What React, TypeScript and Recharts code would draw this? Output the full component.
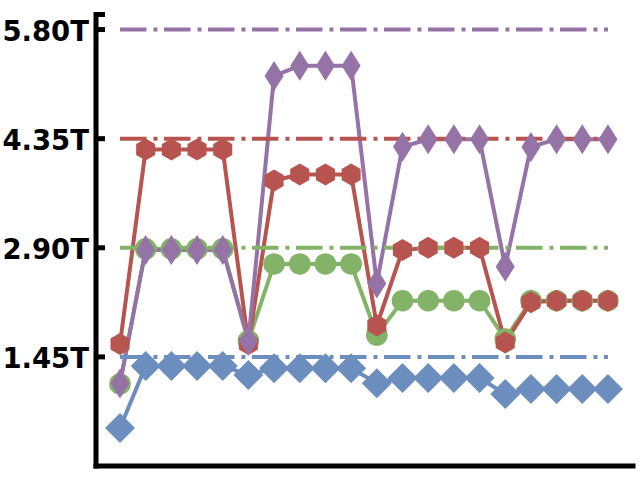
import { LineChart, Line, XAxis, YAxis } from "recharts";

const steps = [0, 1, 2, 3, 4, 5, 6, 7, 8, 9, 10, 11, 12, 13, 14, 15, 16, 17, 18, 19];

const blueVals = [0.505, 1.33, 1.33, 1.33, 1.33, 1.21, 1.3, 1.3, 1.3, 1.3, 1.1, 1.17, 1.17, 1.17, 1.17, 0.957, 1.023, 1.023, 1.023, 1.023];
const greenVals = [1.09, 2.885, 2.885, 2.885, 2.885, 1.665, 2.685, 2.685, 2.685, 2.685, 1.74, 2.197, 2.197, 2.197, 2.197, 1.688, 2.197, 2.197, 2.197, 2.197];
const redVals = [1.621, 4.205, 4.205, 4.205, 4.205, 1.62, 3.794, 3.874, 3.874, 3.874, 1.867, 2.87, 2.9, 2.9, 2.9, 1.641, 2.175, 2.197, 2.197, 2.197];
const purpleVals = [1.096, 2.87, 2.87, 2.87, 2.87, 1.661, 5.183, 5.32, 5.32, 5.32, 2.425, 4.243, 4.342, 4.342, 4.342, 2.649, 4.24, 4.342, 4.342, 4.342];

// horizontal targets, one per series
const targets = [1.45, 2.9, 4.35, 5.8];
const yTicks = [1.45, 2.9, 4.35, 5.8, 6];

const BLUE = "#6C8EBF";
const GREEN = "#82B366";
const RED = "#B85450";
const PURPLE = "#9673A6";

const data = steps.map((s, i) => ({
  x: s,
  blue: blueVals[i],
  green: greenVals[i],
  red: redVals[i],
  purple: purpleVals[i],
  tBlue: targets[0],
  tGreen: targets[1],
  tRed: targets[2],
  tPurple: targets[3],
}));

const diamond = (p: any) => {
  const { cx, cy, index } = p;
  const r = 15;
  return (
    <path
      key={`b-${index}`}
      d={`M${cx},${cy - r}L${cx + r},${cy}L${cx},${cy + r}L${cx - r},${cy}Z`}
      fill={BLUE}
    />
  );
};

const circle = (p: any) => (
  <circle key={`g-${p.index}`} cx={p.cx} cy={p.cy} r={10.8} fill={GREEN} />
);

const hexagon = (p: any) => {
  const { cx, cy, index } = p;
  const r = 11;
  const pts = [-90, -30, 30, 90, 150, 210]
    .map((a) => {
      const t = (a * Math.PI) / 180;
      return `${cx + r * Math.cos(t)},${cy + r * Math.sin(t)}`;
    })
    .join(" ");
  return <polygon key={`r-${index}`} points={pts} fill={RED} />;
};

const thinDiamond = (p: any) => {
  const { cx, cy, index } = p;
  const w = 9.5;
  const h = 15;
  return (
    <path
      key={`p-${index}`}
      d={`M${cx},${cy - h}L${cx + w},${cy}L${cx},${cy + h}L${cx - w},${cy}Z`}
      fill={PURPLE}
    />
  );
};

const YTick = (p: any) => {
  const v = p.payload.value;
  if (v === 6) return <g />;
  return (
    <text
      x={p.x}
      y={p.y}
      dy={11}
      textAnchor="end"
      fill="#000"
      style={{ fontSize: 27.5, fontWeight: 700, fontFamily: "'DejaVu Sans', sans-serif" }}
    >
      {`${v.toFixed(2)}T`}
    </text>
  );
};

const dash = "26.5 7 4 6.5";

export default function App() {
  return (
    <div style={{ position: "absolute", left: 0, top: 0 }}>
      <LineChart
        width={640}
        height={480}
        data={data}
        margin={{ top: 14.5, right: 7, bottom: 13, left: 0 }}
      >
        <XAxis
          dataKey="x"
          type="number"
          domain={[-0.934, 19.975]}
          height={1}
          tick={false}
          tickLine={false}
          axisLine={{ stroke: "#000", strokeWidth: 5, strokeLinecap: "square" }}
        />
        <YAxis
          type="number"
          domain={[0, 6]}
          ticks={yTicks}
          width={96}
          tickSize={-9}
          tickMargin={16}
          tick={<YTick />}
          tickLine={{ stroke: "#000", strokeWidth: 5 }}
          axisLine={{ stroke: "#000", strokeWidth: 5, strokeLinecap: "square" }}
          interval={0}
        />
        <Line dataKey="blue" stroke={BLUE} strokeWidth={4} dot={diamond} activeDot={false} isAnimationActive={false} />
        <Line dataKey="green" stroke={GREEN} strokeWidth={4} dot={circle} activeDot={false} isAnimationActive={false} />
        <Line dataKey="red" stroke={RED} strokeWidth={4} dot={hexagon} activeDot={false} isAnimationActive={false} />
        <Line dataKey="purple" stroke={PURPLE} strokeWidth={4} dot={thinDiamond} activeDot={false} isAnimationActive={false} />
        <Line dataKey="tBlue" stroke={BLUE} strokeWidth={4} strokeDasharray={dash} dot={false} activeDot={false} isAnimationActive={false} />
        <Line dataKey="tGreen" stroke={GREEN} strokeWidth={4} strokeDasharray={dash} dot={false} activeDot={false} isAnimationActive={false} />
        <Line dataKey="tRed" stroke={RED} strokeWidth={4} strokeDasharray={dash} dot={false} activeDot={false} isAnimationActive={false} />
        <Line dataKey="tPurple" stroke={PURPLE} strokeWidth={4} strokeDasharray={dash} dot={false} activeDot={false} isAnimationActive={false} />
      </LineChart>
    </div>
  );
}
